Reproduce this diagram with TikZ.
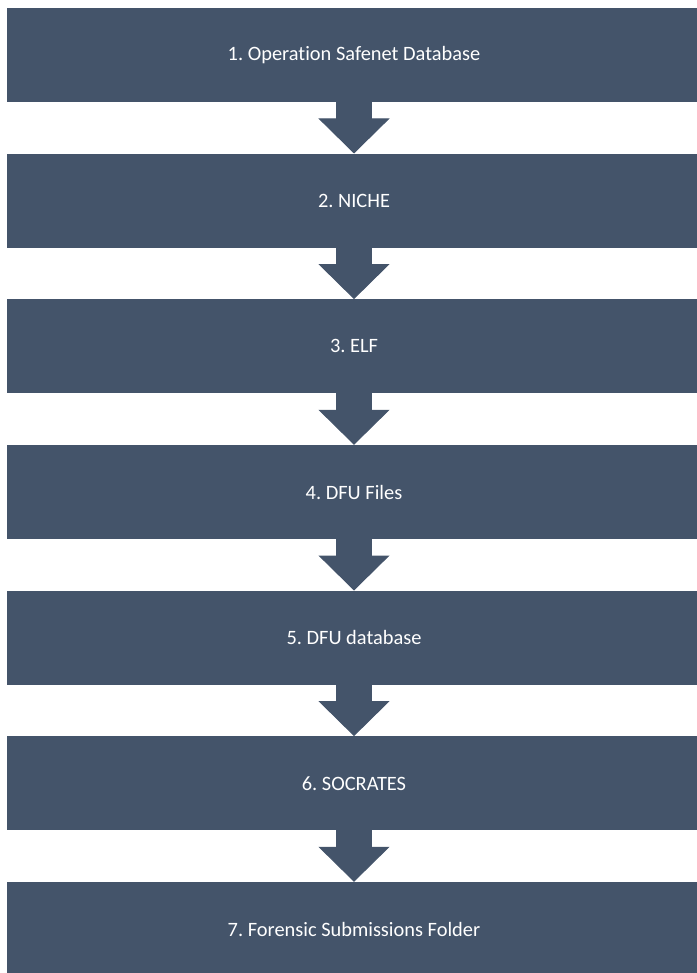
\documentclass[tikz,border=0pt]{standalone}
\usepackage{fontspec}
\setmainfont{Carlito}[Ligatures=NoCommon]
\usepackage{xcolor}
\usepackage{tikz}
\usetikzlibrary{arrows.meta}
\usetikzlibrary{positioning}
\definecolor{slate}{HTML}{44546A}
\tikzset{>=latex}
\tikzstyle{stage} = [draw=none, fill=slate, text=white, inner sep=0,
  minimum width=694.6pt, minimum height=94pt,
  font=\fontsize{20.4}{24}\selectfont\frenchspacing]
\tikzstyle{flow} = [draw=slate, line width=36pt, shorten <=-1pt,
  -{Triangle[width=71pt, length=35pt, line width=1pt]}]

\begin{document}
\begin{tikzpicture}[x=1pt, y=-1pt]
\useasboundingbox (0, 0) rectangle (696, 973);
\node [stage]  (OS) at (354, 55) {1. Operation Safenet Database};
\node [stage]  (NI) at (354, 200.7) {2. NICHE};
\node [stage]  (EL) at (354, 346.3) {3. ELF};
\node [stage]  (DF) at (354, 492) {4. DFU Files};
\node [stage]  (DB) at (354, 637.7) {5. DFU database};
\node [stage]  (SO) at (354, 783.3) {6. SOCRATES};
\node [stage]  (FS) at (354, 929) {7. Forensic Submissions Folder};
\draw [flow] (OS) to (NI);
\draw [flow] (NI) to (EL);
\draw [flow] (EL) to (DF);
\draw [flow] (DF) to (DB);
\draw [flow] (DB) to (SO);
\draw [flow] (SO) to (FS);
\end{tikzpicture}
\end{document}
